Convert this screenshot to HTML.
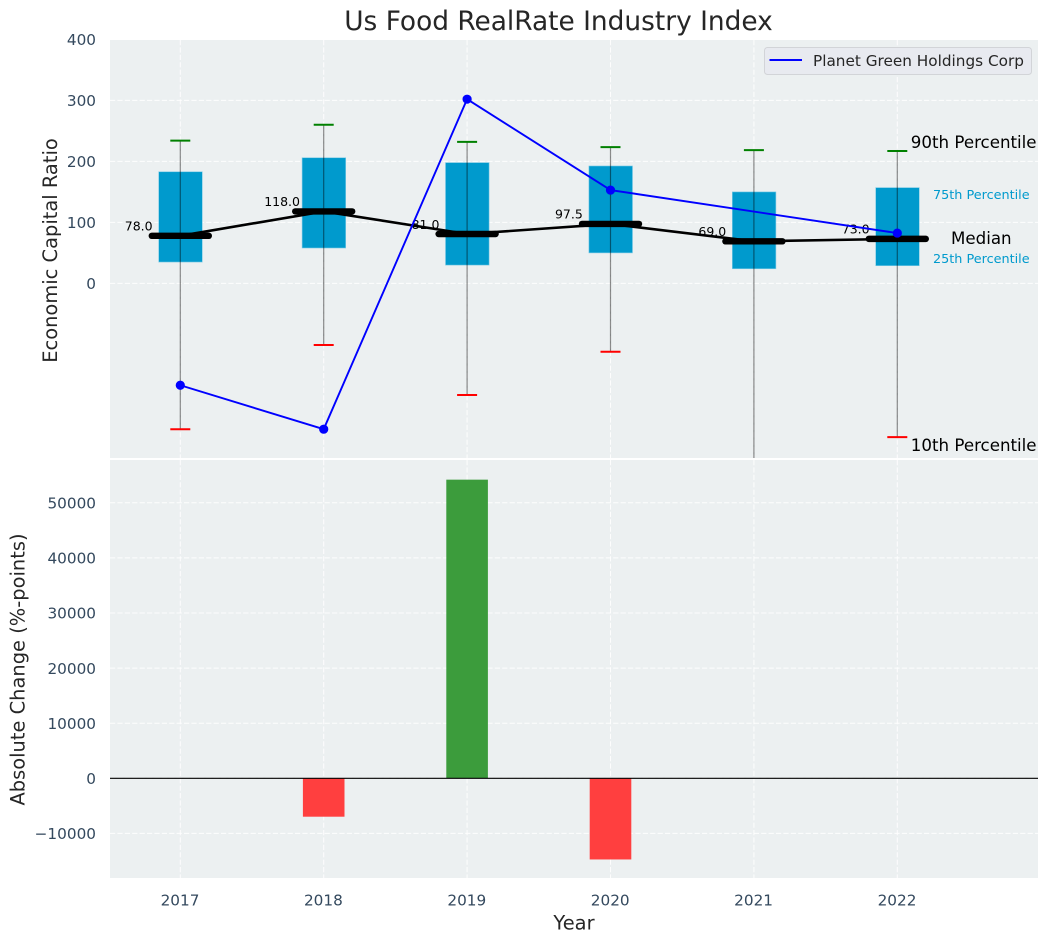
<!DOCTYPE html>
<html lang="en">
<head>
<meta charset="utf-8">
<title>Us Food RealRate Industry Index</title>
<style>
html,body{margin:0;padding:0;background:#fff;}
svg{display:block;font-family:"DejaVu Sans","Liberation Sans",sans-serif;}
</style>
</head>
<body>
<svg id="chart" xmlns="http://www.w3.org/2000/svg" width="1048" height="942" viewBox="0 0 1048 942">
  <defs>
    <clipPath id="top-clip"><rect x="110" y="40" width="928" height="418"/></clipPath>
    <clipPath id="bottom-clip"><rect x="110" y="460" width="928" height="418"/></clipPath>
  </defs>
  <text x="558.5" y="30" text-anchor="middle" font-size="26.4" fill="#262626">Us Food RealRate Industry Index</text>
  <rect x="110" y="40" width="928" height="418" fill="#ecf0f1"/>
  <rect x="110" y="460" width="928" height="418" fill="#ecf0f1"/>
  <g id="top-grid"></g>
  <g id="bottom-grid"></g>
  <g id="top-marks" clip-path="url(#top-clip)"></g>
  <g id="bottom-marks" clip-path="url(#bottom-clip)"></g>
  <g id="labels"></g>
  <text transform="translate(57 250.5) rotate(-90)" text-anchor="middle" font-size="19.44" fill="#262626">Economic Capital Ratio</text>
  <text transform="translate(24.5 669.5) rotate(-90)" text-anchor="middle" font-size="19.44" fill="#262626">Absolute Change (%-points)</text>
  <text x="574" y="929.3" text-anchor="middle" font-size="19.44" fill="#262626">Year</text>
  <g>
    <rect x="764.5" y="47.5" width="267" height="27" rx="3" fill="#e8eaf0" stroke="#d2d4d8" stroke-width="1"/>
    <line x1="769.5" y1="60" x2="802" y2="60" stroke="#0000ff" stroke-width="2"/>
    <text x="813" y="66" font-size="15.28" fill="#262626">Planet Green Holdings Corp</text>
  </g>
</svg>
<script>
const years = [2017, 2018, 2019, 2020, 2021, 2022];
const p90 = [234, 260, 232, 223.5, 218.5, 217];
const p75 = [183, 206, 198, 192.5, 150, 157];
const medians = [78, 118, 81, 97.5, 69, 73];
const p25 = [35, 58, 30, 50, 24, 29];
const p10 = [-239, -101, -183, -112, -320, -252];
const company = [-167, -239, 302, 153, null, 82.5];
const changes = [null, -6970, 54200, -14730, null, null];
const topTicks = [0, 100, 200, 300, 400];
const bottomTicks = [-10000, 0, 10000, 20000, 30000, 40000, 50000];

const NS = 'http://www.w3.org/2000/svg';
const xPos = function (year) { return 180.3 + (year - 2017) * 143.4; };
const yTop = function (v) { return 283.4 - v * 0.61; };
const yBottom = function (v) { return 778.3 - v * 0.00551; };

function mk(parent, tag, attrs, text) {
  const el = document.createElementNS(NS, tag);
  Object.keys(attrs).forEach(function (k) { el.setAttribute(k, attrs[k]); });
  if (text !== undefined) el.textContent = text;
  parent.appendChild(el);
  return el;
}

const topGrid = document.getElementById('top-grid');
const bottomGrid = document.getElementById('bottom-grid');
const topMarks = document.getElementById('top-marks');
const bottomMarks = document.getElementById('bottom-marks');
const labels = document.getElementById('labels');
const gridStyle = { stroke: '#ffffff', 'stroke-width': 1, 'stroke-dasharray': '5.2 2.2', opacity: 0.9 };

topTicks.forEach(function (t) {
  const g = mk(topGrid, 'line', Object.assign({ x1: 110, x2: 1038, y1: yTop(t), y2: yTop(t) }, gridStyle));
  
  
  const l = mk(labels, 'text', { x: 96, y: yTop(t) + 5.7, 'text-anchor': 'end', 'font-size': 15.28, fill: '#34495e' }, String(t));
  
  
});

bottomTicks.forEach(function (t) {
  const g = mk(bottomGrid, 'line', Object.assign({ x1: 110, x2: 1038, y1: yBottom(t), y2: yBottom(t) }, gridStyle));
  
  
  const l = mk(labels, 'text', { x: 96, y: yBottom(t) + 5.7, 'text-anchor': 'end', 'font-size': 15.28, fill: '#34495e' }, String(t).replace('-', '\u2212'));
  
  
});

years.forEach(function (yr) {
  const x = xPos(yr);
  const g1 = mk(topGrid, 'line', Object.assign({ x1: x, x2: x, y1: 40, y2: 458 }, gridStyle));
  
  
  const g2 = mk(bottomGrid, 'line', Object.assign({ x1: x, x2: x, y1: 460, y2: 878 }, gridStyle));
  
  
  const l = mk(labels, 'text', { x: x - 0.3, y: 905.3, 'text-anchor': 'middle', 'font-size': 15.28, fill: '#34495e' }, String(yr));
  
  
});

/* boxes */
years.forEach(function (yr, i) {
  const x = xPos(yr);
  const box = mk(topMarks, 'rect', { x: x - 21.6, y: yTop(p75[i]), width: 43.6, height: yTop(p25[i]) - yTop(p75[i]), fill: '#009acd', stroke: '#7fcbe6', 'stroke-width': 0.6 });
  
  
});

/* whiskers */
years.forEach(function (yr, i) {
  const x = xPos(yr);
  const w = mk(topMarks, 'line', { x1: x, x2: x, y1: yTop(p90[i]), y2: yTop(p10[i]), stroke: '#000000', 'stroke-opacity': 0.45, 'stroke-width': 1.2 });
  
  
  const hi = mk(topMarks, 'line', { x1: x - 10, x2: x + 10, y1: yTop(p90[i]), y2: yTop(p90[i]), stroke: '#008000', 'stroke-width': 2 });
  
  
  const lo = mk(topMarks, 'line', { x1: x - 10, x2: x + 10, y1: yTop(p10[i]), y2: yTop(p10[i]), stroke: '#ff0000', 'stroke-width': 2 });
  
  
});

/* value labels sit beneath the lines */
years.forEach(function (yr, i) {
  const t = mk(labels, 'text', { x: xPos(yr) - 41.6, y: yTop(medians[i]) - 5.2, 'text-anchor': 'middle', 'font-size': 12.5, fill: '#000000' }, medians[i].toFixed(1));
  
  
});

/* median trend */
const medianPts = years.map(function (yr, i) { return xPos(yr) + ',' + yTop(medians[i]); }).join(' ');
const medianLine = mk(topMarks, 'polyline', { points: medianPts, fill: 'none', stroke: '#000000', 'stroke-width': 2.6 });



years.forEach(function (yr, i) {
  const x = xPos(yr);
  const m = mk(topMarks, 'line', { x1: x - 28.5, x2: x + 28.5, y1: yTop(medians[i]), y2: yTop(medians[i]), stroke: '#000000', 'stroke-width': 6.4, 'stroke-linecap': 'round' });
  
  
});

/* company series */
const companyPts = [];
years.forEach(function (yr, i) {
  if (company[i] !== null) companyPts.push(xPos(yr) + ',' + yTop(company[i]));
});
const companyOverlay = document.getElementById('chart');
const companyGroup = mk(companyOverlay, 'g', { 'clip-path': 'url(#top-clip)' });


const companyLine = mk(companyGroup, 'polyline', { points: companyPts.join(' '), fill: 'none', stroke: '#0000ff', 'stroke-width': 1.9 });


years.forEach(function (yr, i) {
  if (company[i] === null) return;
  const c = mk(companyGroup, 'circle', { cx: xPos(yr), cy: yTop(company[i]), r: 4.6, fill: '#0000ff' });
  
  
});

/* bars */
years.forEach(function (yr, i) {
  if (changes[i] === null) return;
  const x = xPos(yr);
  const top = Math.min(yBottom(changes[i]), yBottom(0));
  const h = Math.abs(yBottom(changes[i]) - yBottom(0));
  const b = mk(bottomMarks, 'rect', { x: x - 20.8, y: top, width: 41.6, height: h, fill: changes[i] >= 0 ? '#3c9c3c' : '#ff3f3f' });
  
  
});
const zero = mk(bottomMarks, 'line', { x1: 110, x2: 1038, y1: yBottom(0), y2: yBottom(0), stroke: '#000000', 'stroke-width': 1.2 });



/* percentile annotations anchored to the final year */
const last = years.length - 1;
const lastX = xPos(years[last]);
const a90 = mk(labels, 'text', { x: lastX + 13.5, y: yTop(p90[last]) - 3.2, 'font-size': 16.67, fill: '#000000' }, '90th Percentile');


const a75 = mk(labels, 'text', { x: lastX + 84, y: yTop(p75[last]) + 11.5, 'text-anchor': 'middle', 'font-size': 12.8, fill: '#009acd' }, '75th Percentile');


const aMed = mk(labels, 'text', { x: lastX + 84, y: yTop(medians[last]) + 5.3, 'text-anchor': 'middle', 'font-size': 16.67, fill: '#000000' }, 'Median');


const a25 = mk(labels, 'text', { x: lastX + 84, y: yTop(p25[last]) - 2.5, 'text-anchor': 'middle', 'font-size': 12.8, fill: '#009acd' }, '25th Percentile');


const a10 = mk(labels, 'text', { x: lastX + 13.5, y: yTop(p10[last]) + 14, 'font-size': 16.67, fill: '#000000' }, '10th Percentile');


</script>
</body>
</html>
